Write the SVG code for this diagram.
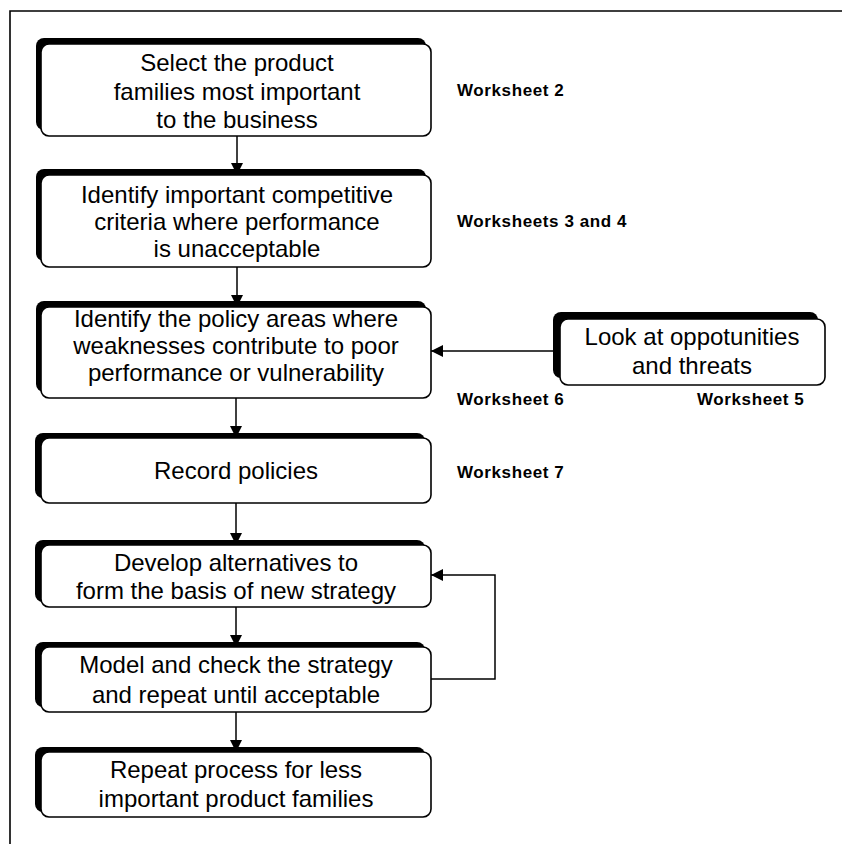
<svg xmlns="http://www.w3.org/2000/svg" width="842" height="844" viewBox="0 0 842 844">
<defs>
<style>
.sh{fill:#000}
.bx{fill:#fff;stroke:#000;stroke-width:1.6}
.t{font-family:"Liberation Sans",Arial,sans-serif;font-size:24px;fill:#000;text-anchor:middle}
.ws{font-family:"Liberation Sans",Arial,sans-serif;font-size:17px;font-weight:bold;letter-spacing:0.6px;fill:#000}
.ln{fill:none;stroke:#000;stroke-width:1.5}
</style>
<marker id="ah" viewBox="0 0 12 12" refX="12" refY="6" markerWidth="12" markerHeight="12" markerUnits="userSpaceOnUse" orient="auto">
<path d="M0,0 L12,6 L0,12 Z" fill="#000"/>
</marker>
</defs>
<rect width="842" height="844" fill="#fff"/>
<path d="M10,844 L10,11 L842,11" fill="none" stroke="#000" stroke-width="1.6"/>

<g id="connectors">
<line class="ln" x1="237" y1="136" x2="237" y2="175" marker-end="url(#ah)"/>
<line class="ln" x1="237" y1="267" x2="237" y2="307" marker-end="url(#ah)"/>
<line class="ln" x1="236" y1="398" x2="236" y2="438" marker-end="url(#ah)"/>
<line class="ln" x1="236" y1="503" x2="236" y2="545" marker-end="url(#ah)"/>
<line class="ln" x1="236" y1="607" x2="236" y2="647" marker-end="url(#ah)"/>
<line class="ln" x1="236" y1="712" x2="236" y2="752" marker-end="url(#ah)"/>
<line class="ln" x1="555" y1="351" x2="431" y2="351" marker-end="url(#ah)"/>
<path class="ln" d="M431,679 L495,679 L495,575 L431,575" marker-end="url(#ah)"/>
</g>

<g id="n1">
<rect class="sh" x="36" y="38" width="390" height="92" rx="8"/>
<rect class="bx" x="41" y="44" width="390" height="92" rx="8"/>
<text class="t" x="237" y="71">Select the product</text>
<text class="t" x="237" y="100">families most important</text>
<text class="t" x="237" y="128">to the business</text>
</g>
<g id="n2">
<rect class="sh" x="36" y="169" width="390" height="92" rx="8"/>
<rect class="bx" x="41" y="175" width="390" height="92" rx="8"/>
<text class="t" x="237" y="203">Identify important competitive</text>
<text class="t" x="237" y="230">criteria where performance</text>
<text class="t" x="237" y="257">is unacceptable</text>
</g>
<g id="n3">
<rect class="sh" x="36" y="301" width="390" height="91" rx="8"/>
<rect class="bx" x="41" y="307" width="390" height="91" rx="8"/>
<text class="t" x="236" y="327">Identify the policy areas where</text>
<text class="t" x="236" y="354">weaknesses contribute to poor</text>
<text class="t" x="236" y="381">performance or vulnerability</text>
</g>
<g id="n4">
<rect class="sh" x="35" y="433" width="390" height="65" rx="8"/>
<rect class="bx" x="41" y="438" width="390" height="65" rx="8"/>
<text class="t" x="236" y="479">Record policies</text>
</g>
<g id="n5">
<rect class="sh" x="35" y="540" width="390" height="62" rx="8"/>
<rect class="bx" x="41" y="545" width="390" height="62" rx="8"/>
<text class="t" x="236" y="571">Develop alternatives to</text>
<text class="t" x="236" y="599">form the basis of new strategy</text>
</g>
<g id="n6">
<rect class="sh" x="35" y="642" width="390" height="65" rx="8"/>
<rect class="bx" x="41" y="647" width="390" height="65" rx="8"/>
<text class="t" x="236" y="673">Model and check the strategy</text>
<text class="t" x="236" y="703">and repeat until acceptable</text>
</g>
<g id="n7">
<rect class="sh" x="35" y="747" width="390" height="65" rx="8"/>
<rect class="bx" x="41" y="752" width="390" height="65" rx="8"/>
<text class="t" x="236" y="778">Repeat process for less</text>
<text class="t" x="236" y="807">important product families</text>
</g>
<g id="n8">
<rect class="sh" x="553" y="312" width="265" height="66" rx="8"/>
<rect class="bx" x="560" y="319" width="265" height="66" rx="8"/>
<text class="t" x="692" y="345">Look at oppotunities</text>
<text class="t" x="692" y="374">and threats</text>
</g>

<g id="labels">
<text class="ws" x="457" y="96">Worksheet 2</text>
<text class="ws" x="457" y="227">Worksheets 3 and 4</text>
<text class="ws" x="457" y="405">Worksheet 6</text>
<text class="ws" x="697" y="405">Worksheet 5</text>
<text class="ws" x="457" y="478">Worksheet 7</text>
</g>
</svg>
